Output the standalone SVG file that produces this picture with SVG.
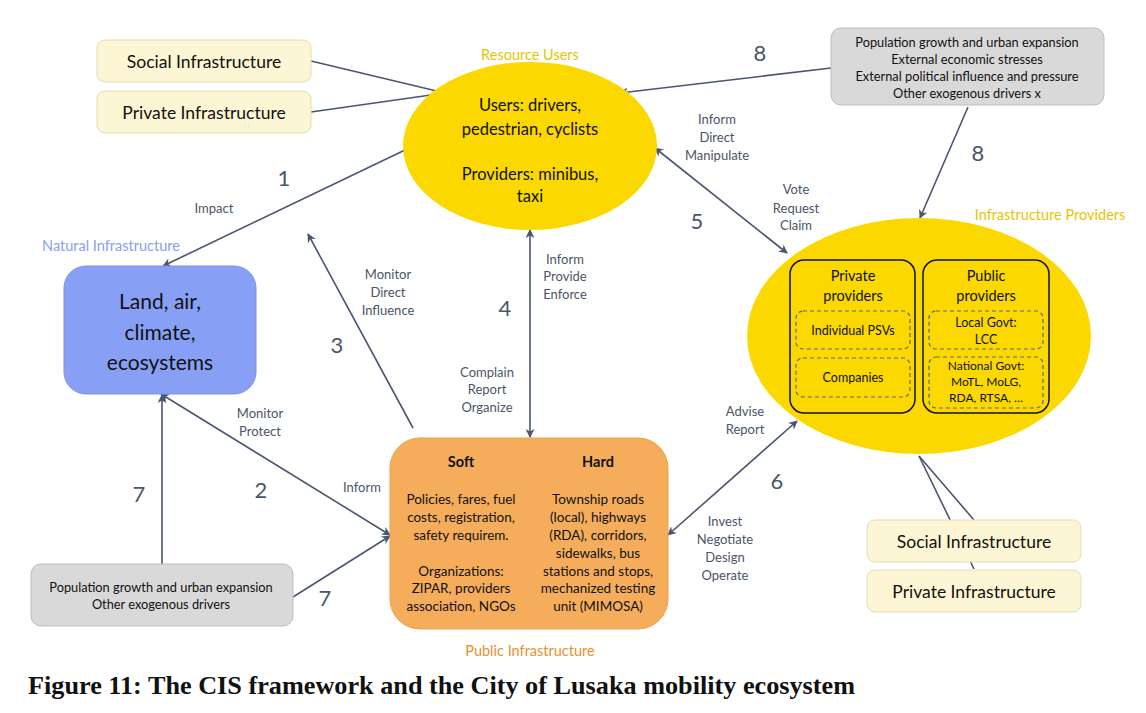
<svg xmlns="http://www.w3.org/2000/svg" width="1146" height="713" viewBox="0 0 1146 713">
<defs>
<marker id="ah" viewBox="0 0 10 10" refX="9" refY="5" markerWidth="9" markerHeight="9" markerUnits="userSpaceOnUse" orient="auto-start-reverse">
<path d="M0,0 L10,5 L0,10 L3,5 Z" fill="#4a5670"/>
</marker>
</defs>
<style>
text{font-family:Lato,"Open Sans","Liberation Sans",sans-serif;text-anchor:middle;fill:#111}
.infra{fill:#fdf6d4;stroke:#e2dcbc;stroke-width:1}
.infra-t{font-size:17.5px}
.gray{fill:#d9d9d9;stroke:#bdbdbd;stroke-width:1}
.gray-t{font-size:12.8px}
.yel{fill:#fbd900}
.conn{stroke:#4a5670;stroke-width:1.6;fill:none}
.lbl{font-size:13px;fill:#4a5568}
.num{font-size:22px;fill:#4a5568}
.cat-y{font-size:14.5px;fill:#e8c400}
.inner{fill:none;stroke:#111;stroke-width:1.5}
.dash{fill:none;stroke:#5a6688;stroke-width:1.2;stroke-dasharray:4 3}
.prov{font-size:14.5px}
.sub{font-size:12.5px}
.or-t{font-size:13.5px}
</style>

<g id="connectors">
<line class="conn" x1="311" y1="61" x2="445" y2="93"/>
<line class="conn" x1="311" y1="112" x2="445" y2="93"/>
<line class="conn" x1="919" y1="456" x2="974" y2="569"/>
<line class="conn" x1="919" y1="456" x2="974" y2="520"/>
<line class="conn" x1="405" y1="150" x2="163" y2="266" marker-end="url(#ah)"/>
<line class="conn" x1="831" y1="68" x2="620" y2="93" marker-end="url(#ah)"/>
<line class="conn" x1="968" y1="107" x2="920" y2="218" marker-end="url(#ah)"/>
<line class="conn" x1="655" y1="148" x2="787" y2="253" marker-start="url(#ah)" marker-end="url(#ah)"/>
<line class="conn" x1="413" y1="428" x2="308" y2="234" marker-end="url(#ah)"/>
<line class="conn" x1="530" y1="230" x2="530" y2="437" marker-start="url(#ah)" marker-end="url(#ah)"/>
<line class="conn" x1="161" y1="394" x2="390" y2="535" marker-start="url(#ah)" marker-end="url(#ah)"/>
<line class="conn" x1="162" y1="564" x2="162" y2="395" marker-end="url(#ah)"/>
<line class="conn" x1="293" y1="597" x2="390" y2="536" marker-end="url(#ah)"/>
<line class="conn" x1="668" y1="535" x2="797" y2="421" marker-start="url(#ah)" marker-end="url(#ah)"/>
</g>

<g id="connector-labels">
<text class="num" x="284" y="186">1</text>
<text class="lbl" x="214" y="213">Impact</text>
<text class="num" x="261" y="498">2</text>
<text class="lbl" x="260" y="418">Monitor</text>
<text class="lbl" x="260" y="436">Protect</text>
<text class="lbl" x="362" y="492">Inform</text>
<text class="num" x="337" y="353">3</text>
<text class="lbl" x="388" y="279">Monitor</text>
<text class="lbl" x="388" y="297">Direct</text>
<text class="lbl" x="388" y="315">Influence</text>
<text class="num" x="505" y="316">4</text>
<text class="lbl" x="565" y="264">Inform</text>
<text class="lbl" x="565" y="281">Provide</text>
<text class="lbl" x="565" y="299">Enforce</text>
<text class="lbl" x="487" y="377">Complain</text>
<text class="lbl" x="487" y="394">Report</text>
<text class="lbl" x="487" y="412">Organize</text>
<text class="num" x="697" y="229">5</text>
<text class="lbl" x="717" y="124">Inform</text>
<text class="lbl" x="717" y="142">Direct</text>
<text class="lbl" x="717" y="160">Manipulate</text>
<text class="lbl" x="796" y="194">Vote</text>
<text class="lbl" x="796" y="213">Request</text>
<text class="lbl" x="796" y="230">Claim</text>
<text class="num" x="777" y="489">6</text>
<text class="lbl" x="745" y="416">Advise</text>
<text class="lbl" x="745" y="434">Report</text>
<text class="lbl" x="725" y="526">Invest</text>
<text class="lbl" x="725" y="544">Negotiate</text>
<text class="lbl" x="725" y="562">Design</text>
<text class="lbl" x="725" y="580">Operate</text>
<text class="num" x="139" y="502">7</text>
<text class="num" x="325" y="606">7</text>
<text class="num" x="760" y="61">8</text>
<text class="num" x="978" y="161">8</text>
</g>

<g id="social-infra-top">
<rect class="infra" x="97" y="40" width="214" height="42" rx="8"/>
<text class="infra-t" x="204" y="68">Social Infrastructure</text>
</g>
<g id="private-infra-top">
<rect class="infra" x="97" y="91" width="214" height="42" rx="8"/>
<text class="infra-t" x="204" y="119">Private Infrastructure</text>
</g>

<g id="resource-users">
<text class="cat-y" x="530" y="60">Resource Users</text>
<ellipse class="yel" cx="530" cy="146" rx="127" ry="84"/>
<text style="font-size:16.5px" x="530" y="111">Users: drivers,</text>
<text style="font-size:16.5px" x="530" y="135">pedestrian, cyclists</text>
<text style="font-size:16.5px" x="530" y="180">Providers: minibus,</text>
<text style="font-size:16.5px" x="530" y="202">taxi</text>
</g>

<g id="external-drivers-top">
<rect class="gray" x="831" y="28" width="273" height="77" rx="10"/>
<text class="gray-t" x="967" y="47">Population growth and urban expansion</text>
<text class="gray-t" x="967" y="64">External economic stresses</text>
<text class="gray-t" x="967" y="81">External political influence and pressure</text>
<text class="gray-t" x="967" y="98">Other exogenous drivers x</text>
</g>

<g id="infrastructure-providers">
<text class="cat-y" x="1050" y="220">Infrastructure Providers</text>
<ellipse class="yel" cx="919" cy="336" rx="172" ry="118"/>
<rect class="inner" x="790" y="260" width="125" height="153" rx="14"/>
<text class="prov" x="853" y="281">Private</text>
<text class="prov" x="853" y="301">providers</text>
<rect class="dash" x="796" y="311" width="114" height="38" rx="7"/>
<text class="sub" x="853" y="335">Individual PSVs</text>
<rect class="dash" x="796" y="358" width="114" height="39" rx="7"/>
<text class="sub" x="853" y="382">Companies</text>
<rect class="inner" x="923" y="260" width="126" height="153" rx="14"/>
<text class="prov" x="986" y="281">Public</text>
<text class="prov" x="986" y="301">providers</text>
<rect class="dash" x="929" y="311" width="114" height="38" rx="7"/>
<text class="sub" x="986" y="327">Local Govt:</text>
<text class="sub" x="986" y="344">LCC</text>
<rect class="dash" x="929" y="357" width="114" height="51" rx="7"/>
<text class="sub" style="font-size:12px" x="986" y="370">National Govt:</text>
<text class="sub" style="font-size:12px" x="986" y="386">MoTL, MoLG,</text>
<text class="sub" style="font-size:12px" x="986" y="402">RDA, RTSA, …</text>
</g>

<g id="social-infra-bottom">
<rect class="infra" x="867" y="520" width="214" height="42" rx="8"/>
<text class="infra-t" x="974" y="548">Social Infrastructure</text>
</g>
<g id="private-infra-bottom">
<rect class="infra" x="867" y="570" width="214" height="42" rx="8"/>
<text class="infra-t" x="974" y="598">Private Infrastructure</text>
</g>

<g id="natural-infrastructure">
<text x="111" y="251" style="font-size:14.5px;fill:#8aa0ee">Natural Infrastructure</text>
<rect x="64" y="266" width="192" height="128" rx="22" fill="#87a0f6" stroke="#7d93e0" stroke-width="1"/>
<text style="font-size:21px" x="160" y="309">Land, air,</text>
<text style="font-size:21px" x="160" y="340">climate,</text>
<text style="font-size:21px" x="160" y="370">ecosystems</text>
</g>

<g id="public-infrastructure">
<rect x="390" y="438" width="278" height="191" rx="30" fill="#f5ad5b" stroke="#e9a24f" stroke-width="1"/>
<text style="font-size:14.5px;font-weight:bold" x="461" y="467">Soft</text>
<text style="font-size:14.5px;font-weight:bold" x="598" y="467">Hard</text>
<text class="or-t" x="461" y="504">Policies, fares, fuel</text>
<text class="or-t" x="461" y="522">costs, registration,</text>
<text class="or-t" x="461" y="540">safety requirem.</text>
<text class="or-t" x="461" y="576">Organizations:</text>
<text class="or-t" x="461" y="593">ZIPAR, providers</text>
<text class="or-t" x="461" y="611">association, NGOs</text>
<text class="or-t" x="598" y="504">Township roads</text>
<text class="or-t" x="598" y="522">(local), highways</text>
<text class="or-t" x="598" y="540">(RDA), corridors,</text>
<text class="or-t" x="598" y="558">sidewalks, bus</text>
<text class="or-t" x="598" y="576">stations and stops,</text>
<text class="or-t" x="598" y="593">mechanized testing</text>
<text class="or-t" x="598" y="611">unit (MIMOSA)</text>
<text x="530" y="656" style="font-size:14.5px;fill:#e8912c">Public Infrastructure</text>
</g>

<g id="external-drivers-bottom">
<rect class="gray" x="31" y="564" width="262" height="62" rx="10"/>
<text class="gray-t" x="161" y="592">Population growth and urban expansion</text>
<text class="gray-t" x="161" y="609">Other exogenous drivers</text>
</g>

<text x="28" y="694" style="font-family:'Liberation Serif',serif;font-weight:bold;font-size:25px;text-anchor:start" textLength="827" lengthAdjust="spacingAndGlyphs">Figure 11: The CIS framework and the City of Lusaka mobility ecosystem</text>
</svg>
